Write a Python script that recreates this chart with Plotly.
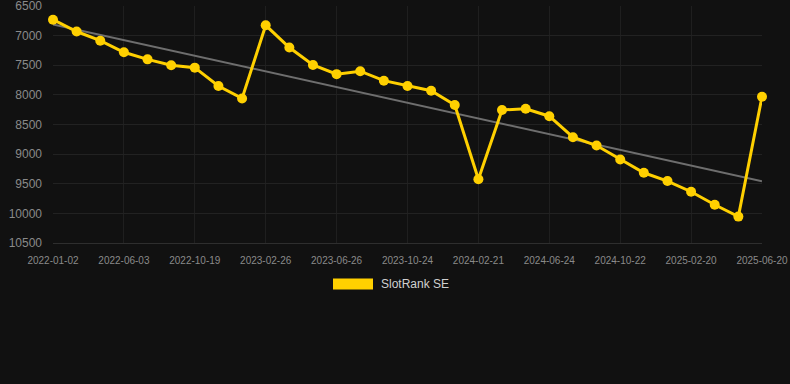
import numpy as np
import plotly.graph_objects as go

dates = [
    "2022-01-02", "2022-02-22", "2022-04-14", "2022-06-03", "2022-07-19", "2022-09-03",
    "2022-10-19", "2022-12-01", "2023-01-13", "2023-02-26", "2023-04-07", "2023-05-17",
    "2023-06-26", "2023-08-05", "2023-09-14", "2023-10-24", "2023-12-03", "2024-01-12",
    "2024-02-21", "2024-04-02", "2024-05-13", "2024-06-24", "2024-08-03", "2024-09-12",
    "2024-10-22", "2024-12-01", "2025-01-10", "2025-02-20", "2025-04-01", "2025-05-11",
    "2025-06-20",
]
rank = [
    6730, 6930, 7085, 7280, 7400, 7500, 7540, 7850, 8060, 6825,
    7200, 7495, 7650, 7600, 7760, 7850, 7930, 8170, 9425, 8255,
    8235, 8360, 8715, 8855, 9090, 9315, 9455, 9635, 9855, 10055,
    8030,
]
tick_labels = dates[::3]
y_ticks = [6500, 7000, 7500, 8000, 8500, 9000, 9500, 10000, 10500]
y_tick_text = [str(v) for v in y_ticks]
series_name = "SlotRank SE"

idx = np.arange(len(rank))
slope, intercept = np.polyfit(idx, rank, 1)
trend = [intercept + slope * i for i in idx]

fig = go.Figure()
fig.add_trace(go.Scatter(
    x=dates, y=trend, mode="lines",
    line=dict(color="#6e6e6e", width=2),
    showlegend=False, hoverinfo="skip", cliponaxis=False,
))
fig.add_trace(go.Scatter(
    x=dates, y=rank, mode="lines+markers", name=series_name,
    line=dict(color="#FFD000", width=3),
    marker=dict(color="#FFD000", size=10),
    showlegend=False, cliponaxis=False,
))

W, H = 790, 384
ml, mr, mt, mb = 53, 28, 6, 141
pw, ph = W - ml - mr, H - mt - mb

def px_x(x):
    return (x - ml) / pw

def px_y(y):
    return 1 - (y - mt) / ph

fig.add_shape(type="rect", xref="paper", yref="paper",
              x0=px_x(333), x1=px_x(373), y0=px_y(289.5), y1=px_y(278.5),
              fillcolor="#FFD000", line=dict(width=0))
fig.add_annotation(xref="paper", yref="paper", x=px_x(379), y=px_y(284),
                   text=series_name, showarrow=False, xanchor="left", yanchor="middle",
                   font=dict(size=12, color="#d0d0d0"))

fig.update_layout(
    width=W, height=H,
    margin=dict(l=ml, r=mr, t=mt, b=mb, autoexpand=False),
    paper_bgcolor="#111111", plot_bgcolor="#111111",
    font=dict(family="Liberation Sans, Arial, sans-serif", color="#8a8a8a"),
    showlegend=False,
    xaxis=dict(
        type="category", range=[0, len(dates) - 1], automargin=False,
        tickmode="array", tickvals=tick_labels, ticktext=tick_labels,
        tickfont=dict(size=10, color="#8a8a8a"),
        showgrid=True, gridcolor="#1f1f1f", gridwidth=1,
        showline=True, linecolor="#2e2e2e", zeroline=False,
        ticks="", ticklabelstandoff=8, ticklabeloverflow="allow",
    ),
    yaxis=dict(
        range=[10501, 6499], automargin=False,
        tickmode="array", tickvals=y_ticks, ticktext=y_tick_text,
        tickfont=dict(size=12, color="#8a8a8a"),
        showgrid=True, gridcolor="#222222", gridwidth=1,
        zeroline=False, showline=False, ticks="", ticklabelstandoff=10,
        ticklabeloverflow="allow",
    ),
)

fig.write_html("out.html", config={"displayModeBar": False},
               post_script="document.body.style.margin='0px';")
